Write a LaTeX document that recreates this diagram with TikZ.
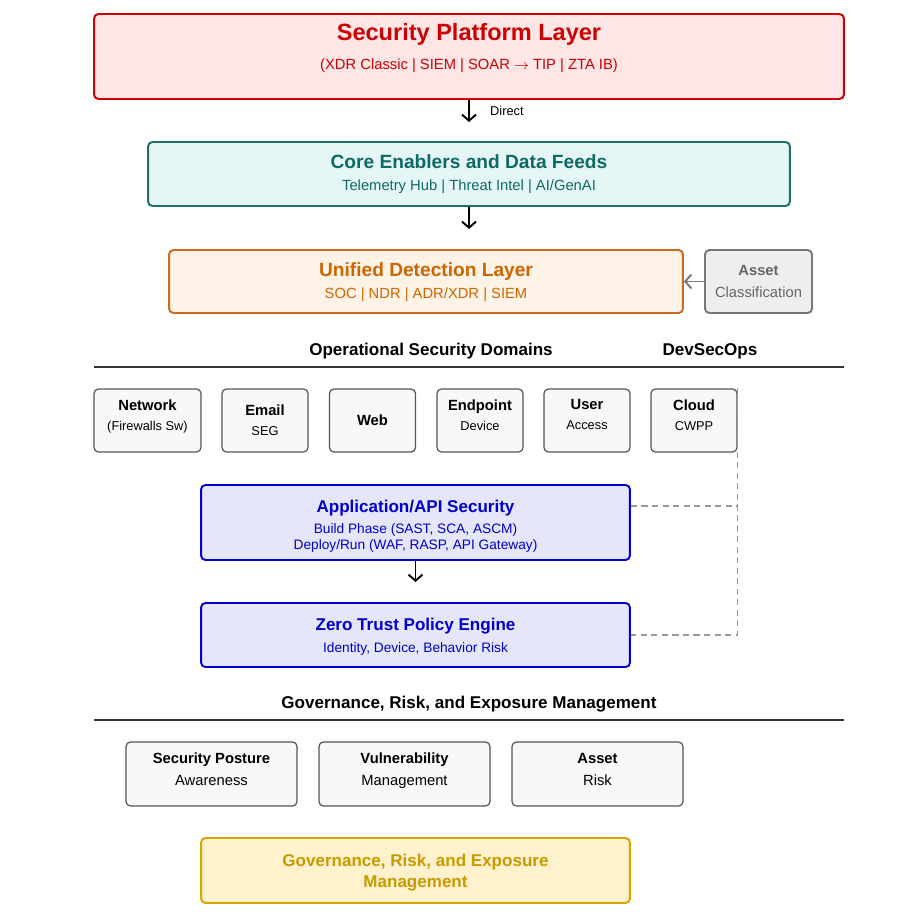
\documentclass[tikz,border=0pt]{standalone}
\usepackage{fontspec}
\setmainfont{Liberation Sans}
\usetikzlibrary{arrows.meta}

\definecolor{spfill}{HTML}{FFE6E6}
\definecolor{spline}{HTML}{CC0000}
\definecolor{cefill}{HTML}{E4F6F5}
\definecolor{celine}{HTML}{1E6F6A}
\definecolor{cetext}{HTML}{0E6A64}
\definecolor{udfill}{HTML}{FFF2E6}
\definecolor{udline}{HTML}{CC6A1C}
\definecolor{udtext}{HTML}{CC6600}
\definecolor{acfill}{HTML}{EEEEEE}
\definecolor{acline}{HTML}{777777}
\definecolor{actext}{HTML}{666666}
\definecolor{apfill}{HTML}{E6E6FA}
\definecolor{apline}{HTML}{0000CC}
\definecolor{dmfill}{HTML}{F8F8F8}
\definecolor{dmline}{HTML}{555555}
\definecolor{gvfill}{HTML}{FFF2CC}
\definecolor{gvline}{HTML}{D6A600}
\definecolor{gvtext}{HTML}{C89A00}
\definecolor{rulecol}{HTML}{333333}
\definecolor{linkcol}{HTML}{999999}

\newcommand{\bigtitle}[1]{{\fontsize{13.4}{16}\selectfont\bfseries #1}}
\newcommand{\laytitle}[1]{{\fontsize{10.9}{13}\selectfont\bfseries #1}}
\newcommand{\midtitle}[1]{{\fontsize{9.7}{12}\selectfont\bfseries #1}}
\newcommand{\boxtitle}[1]{{\fontsize{8.4}{10}\selectfont\bfseries #1}}
\newcommand{\smalltxt}[1]{{\fontsize{7.3}{9}\selectfont #1}}
\newcommand{\apptxt}[1]{{\fontsize{7.8}{9}\selectfont #1}}
% invisible struts to nudge text inside a box
\newcommand{\lowpad}[1]{\rule[-#1]{0pt}{0pt}}
\newcommand{\highpad}[1]{\rule{0pt}{#1}}

\begin{document}
\begin{tikzpicture}[x=0.02cm, y=-0.02cm,
    >={Straight Barb[length=3.5pt,width=8pt]},
    box/.style = {
      draw,
      rounded corners = 2.5pt,
      line width = 1.1pt,
      align = center,
      inner sep = 0pt,
      font = \fontsize{8.4}{12.5}\selectfont
    },
    spbox/.style = {box, draw=spline, fill=spfill, minimum width=15cm, minimum height=1.7cm},
    cebox/.style = {box, draw=celine, fill=cefill, text=cetext, minimum width=12.84cm, minimum height=1.28cm},
    udbox/.style = {box, draw=udline, fill=udfill, text=udtext, minimum width=10.28cm, minimum height=1.26cm},
    acbox/.style = {box, draw=acline, fill=acfill, text=actext, minimum width=2.14cm, minimum height=1.26cm},
    apbox/.style = {box, draw=apline, fill=apfill, text=apline, minimum width=8.58cm, minimum height=1.28cm},
    gvbox/.style = {box, draw=gvline, fill=gvfill, text=gvtext, minimum width=8.58cm, minimum height=1.3cm},
    dom/.style = {box, draw=dmline, fill=dmfill, line width=0.7pt, minimum width=1.72cm, minimum height=1.26cm},
    risk/.style = {dom, minimum width=3.42cm, minimum height=1.28cm},
    head/.style = {font=\fontsize{9.7}{12}\selectfont\bfseries},
    rule/.style = {draw=rulecol, line width=0.8pt},
    arr/.style = {->, line width=1.1pt},
    link/.style = {draw=linkcol, dash pattern=on 3.5pt off 2.5pt, line width=0.6pt}
  ]
  \useasboundingbox (0,0) rectangle (902,916);

  % platform and feeds
  \node[spbox] (spl) at (469,56.5) {};
  \node[align=center, text=spline, font=\fontsize{8.4}{12.5}\selectfont] (spltxt) at (469,48)
    {\bigtitle{Security Platform Layer}\\[3.9pt] (XDR Classic | SIEM | SOAR $\rightarrow$ TIP | ZTA IB)};
  \coordinate (splend) at (469,122);
  \draw[arr] (spl) -- (splend);
  \node[anchor=west, font=\fontsize{7.3}{9}\selectfont] (direct) at (484,111) {Direct};

  \node[cebox] (core) at (469,174)
    {\laytitle{Core Enablers and Data Feeds}\\ Telemetry Hub | Threat Intel | AI/GenAI};
  \coordinate (coreend) at (469,229);
  \draw[arr] (core) -- (coreend);

  \node[udbox] (uni) at (426,281.5)
    {\highpad{9pt}\laytitle{Unified Detection Layer}\\ SOC | NDR | ADR/XDR | SIEM};
  \node[acbox] (asset) at (758.5,281.5)
    {\boxtitle{Asset}\\ Classification};
  \draw[arr, draw=acline] (asset) -- (uni);

  % operational domains
  \node[head] (opshead) at (431,351) {Operational Security Domains};
  \node[head] (devhead) at (710,351) {DevSecOps};
  \draw[rule] (94,367) -- (844,367);

  \node[dom, minimum width=2.14cm] (network) at (147.5,420.5)
    {\boxtitle{Network}\\[-1.1pt] \smalltxt{(Firewalls Sw)}\lowpad{6.5pt}};
  \node[dom] (email) at (265,420.5) {\boxtitle{Email}\\[-1.1pt] \smalltxt{SEG}};
  \node[dom] (web) at (372.5,420.5) {\boxtitle{Web}};
  \node[dom] (endpoint) at (480,420.5) {\boxtitle{Endpoint}\\[-1.1pt] \smalltxt{Device}\lowpad{6.5pt}};
  \node[dom] (user) at (587,420.5) {\boxtitle{User}\\[-1.1pt] \smalltxt{Access}\lowpad{6.5pt}};
  \node[dom] (cloud) at (694,420.5) {\boxtitle{Cloud}\\[-1.1pt] \smalltxt{CWPP}\lowpad{6.5pt}};

  \node[apbox, minimum height=1.5cm] (app) at (415.5,522.5)
    {\highpad{11.5pt}\midtitle{Application/API Security}\\[-0.3pt]
     \apptxt{Build Phase (SAST, SCA, ASCM)}\\[-3.4pt]
     \apptxt{Deploy/Run (WAF, RASP, API Gateway)}};
  \coordinate (append) at (415.5,582);
  \draw[arr] (app) -- (append);

  \node[apbox] (zt) at (415.5,635)
    {\highpad{9pt}\midtitle{Zero Trust Policy Engine}\\ \apptxt{Identity, Device, Behavior Risk}};

  \draw[link] (cloud.north east) -- (cloud.north east |- zt.east) -- (zt.east);
  \draw[link] ([yshift=0.33cm]app.east) -- ([yshift=0.33cm]app.east -| cloud.east);

  % governance
  \node[head] (govhead) at (469,704) {Governance, Risk, and Exposure Management};
  \draw[rule] (94,720) -- (844,720);

  \node[risk] (posture) at (211.5,774) {\boxtitle{Security Posture}\\ Awareness\lowpad{5.6pt}};
  \node[risk] (vuln) at (404.5,774) {\boxtitle{Vulnerability}\\ Management\lowpad{5.6pt}};
  \node[risk] (arisk) at (597.5,774) {\boxtitle{Asset}\\ Risk\lowpad{5.6pt}};

  \node[gvbox] (gov) at (415.5,870.5)
    {\highpad{9pt}\midtitle{Governance, Risk, and Exposure}\\[-0.6pt] \midtitle{Management}};
\end{tikzpicture}
\end{document}
